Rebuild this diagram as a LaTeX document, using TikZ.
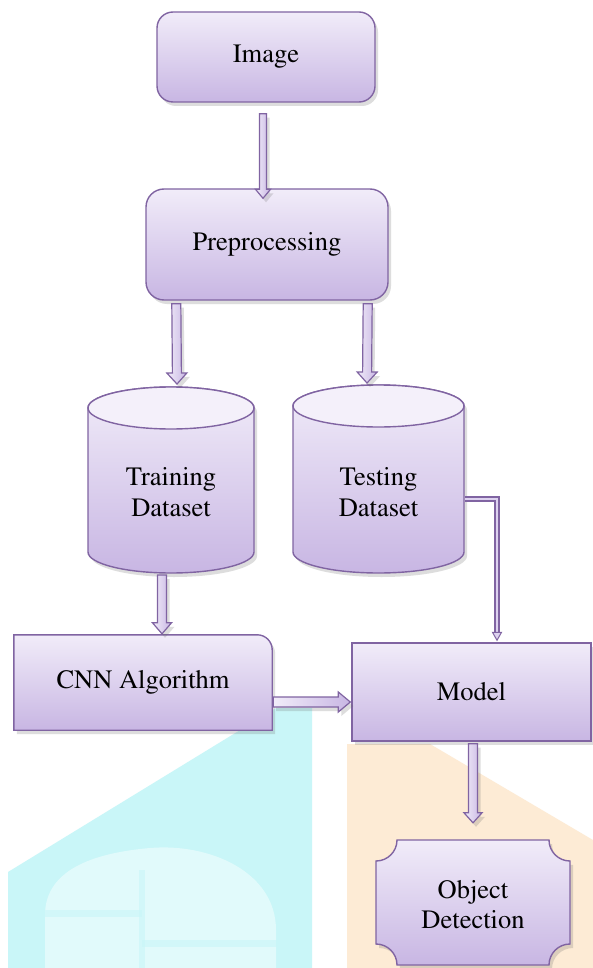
\documentclass[tikz,border=0pt]{standalone}
\usepackage[T1]{fontenc}
\renewcommand{\rmdefault}{ptm}
\usetikzlibrary{calc}
\definecolor{pur}{HTML}{8064A2}
\definecolor{lavtop}{HTML}{F1ECF9}
\definecolor{lavbot}{HTML}{C8B6E3}
\definecolor{lavm}{HTML}{DDD2EF}
\definecolor{lavlight}{HTML}{F4F0FA}
\definecolor{wmcyan}{HTML}{C9F6F8}
\definecolor{wmorange}{HTML}{FDEBD5}
\tikzset{
  boxfill/.style={top color=lavtop, bottom color=lavbot, draw=pur, line width=1.4pt},
  shadowed/.style={preaction={fill=black!60, opacity=0.22, transform canvas={shift={(3pt,-4pt)}}}},
  labeltext/.style={font=\rmfamily\fontsize{26.5}{30.5}\selectfont, align=center, text=black, inner sep=0pt},
  roundbox/.style={boxfill, shadowed, rounded corners=16pt, labeltext},
  plainnode/.style={labeltext},
  arrowbody/.style={left color=lavtop, right color=lavbot, draw=pur, line width=1.2pt, line join=miter, shadowed},
  thinlink/.style={draw=pur, line width=1.3pt, double=lavm, double distance=2.8pt, line join=miter},
  tipstyle/.style={fill=lavm, draw=pur, line width=1pt, line join=miter},
}
% block arrow: #1 from, #2 to, #3 shaft half width, #4 head half width, #5 head length
\newcommand{\blockarr}[5]{%
  \path[arrowbody] let \p1=#1, \p2=#2, \n1={atan2(\y2-\y1,\x2-\x1)}, \n2={veclen(\x2-\x1,\y2-\y1)} in
    {[shift={(\p1)}, rotate=\n1]
     (0,-#3) -- (\n2-#5,-#3) -- (\n2-#5,-#4) -- (\n2,0) -- (\n2-#5,#4) -- (\n2-#5,#3) -- (0,#3) -- cycle};
}
\begin{document}
\begin{tikzpicture}[x=1pt, y=1pt]
\useasboundingbox (0,0) rectangle (593,-968);
\fill[white] (0,0) rectangle (593,-968);

% background watermark
\fill[wmcyan] (8,-968) -- (8,-872) -- (250,-724) -- (276,-708) -- (312,-708) -- (312,-968) -- cycle;
\fill[white, opacity=0.45] (45,-968) -- (45,-915) to[out=90,in=185] (150,-848) to[out=5,in=90] (276,-930) -- (276,-968) -- cycle;
\fill[wmcyan, opacity=0.6] (45,-910) rectangle (142,-917);
\fill[wmcyan, opacity=0.6] (142,-940) rectangle (282,-947);
\fill[wmcyan, opacity=0.6] (139,-870) rectangle (145,-968);
\fill[wmorange] (347,-968) -- (347,-744) -- (430,-744) -- (593,-840) -- (593,-968) -- cycle;

% nodes
\node[roundbox, minimum width=218pt, minimum height=90pt] (img) at (266,-57) {Image};
\node[roundbox, rounded corners=18pt, minimum width=242pt, minimum height=111pt] (pre) at (267,-244.5) {Preprocessing};

% training cylinder
\path[boxfill, shadowed] (88,-408) -- (88,-552) arc[start angle=180, end angle=360, x radius=83, y radius=21]
   -- (254,-408) arc[start angle=0, end angle=180, x radius=83, y radius=21] -- cycle;
\draw[pur, line width=1.4pt, fill=lavlight] (171,-408) ellipse[x radius=83, y radius=21];
\node[plainnode] (train) at (171,-492) {Training\\Dataset};

% testing cylinder
\path[boxfill, shadowed] (293,-406) -- (293,-552) arc[start angle=180, end angle=360, x radius=85.5, y radius=21]
   -- (464,-406) arc[start angle=0, end angle=180, x radius=85.5, y radius=21] -- cycle;
\draw[pur, line width=1.4pt, fill=lavlight] (378.5,-406) ellipse[x radius=85.5, y radius=21];
\node[plainnode] (test) at (378.5,-492) {Testing\\Dataset};

% CNN box (top right corner rounded)
\node[plainnode, minimum width=258pt, minimum height=95pt] (cnn) at (143,-682.5) {};
\path[boxfill, shadowed] (cnn.south west) -- (cnn.north west) -- ($(cnn.north east)+(-15,0)$)
   arc[start angle=90, end angle=0, radius=15] -- (cnn.south east) -- cycle;
\node[plainnode] at (cnn.center) {CNN Algorithm};

% Model box
\node[boxfill, shadowed, labeltext, minimum width=239pt, minimum height=98pt] (model) at (471.5,-692) {Model};

% Object detection plaque
\node[plainnode, minimum width=194pt, minimum height=125pt] (obj) at (473,-902.5) {};
\path[boxfill, shadowed] (397,-840) -- (549,-840) arc[start angle=180, end angle=270, radius=21]
   -- (570,-944) arc[start angle=90, end angle=180, radius=21]
   -- (397,-965) arc[start angle=0, end angle=90, radius=21]
   -- (376,-861) arc[start angle=270, end angle=360, radius=21] -- cycle;
\node[plainnode] at ($(obj.center)+(0,-2)$) {Object\\Detection};

% connector end points
\coordinate (traintop) at (177,-384);
\coordinate (testtop) at (367,-383);
\coordinate (trainbot) at (162,-575);
\coordinate (testside) at (465,-499);
\coordinate (mtip) at ($(model.north)+(25.5,1)$);

% block arrows
\blockarr{($(img.south)+(-3,-11)$)}{($(pre.north)+(-4,-10)$)}{3.5}{7.5}{9}
\blockarr{($(pre.south west)+(31,-3)$)}{(traintop)}{4.5}{10}{11}
\blockarr{($(pre.south east)+(-21,-3)$)}{(testtop)}{4.5}{10}{11}
\blockarr{(trainbot)}{($(cnn.north)+(19,1)$)}{4.5}{9.5}{11}
\blockarr{($(cnn.east)+(1,-19.5)$)}{($(model.west)+(-1,-10)$)}{5}{10}{12}
\blockarr{($(model.south)+(1.5,-2)$)}{($(obj.north)+(0,17)$)}{4.5}{9}{10}

% thin elbow connector
\draw[thinlink] (testside) -| ($(mtip)+(0,9)$);
\path[tipstyle] ($(mtip)+(-4.5,9)$) -- ($(mtip)+(4.5,9)$) -- ($(mtip)+(0,1)$) -- cycle;
\end{tikzpicture}
\end{document}
